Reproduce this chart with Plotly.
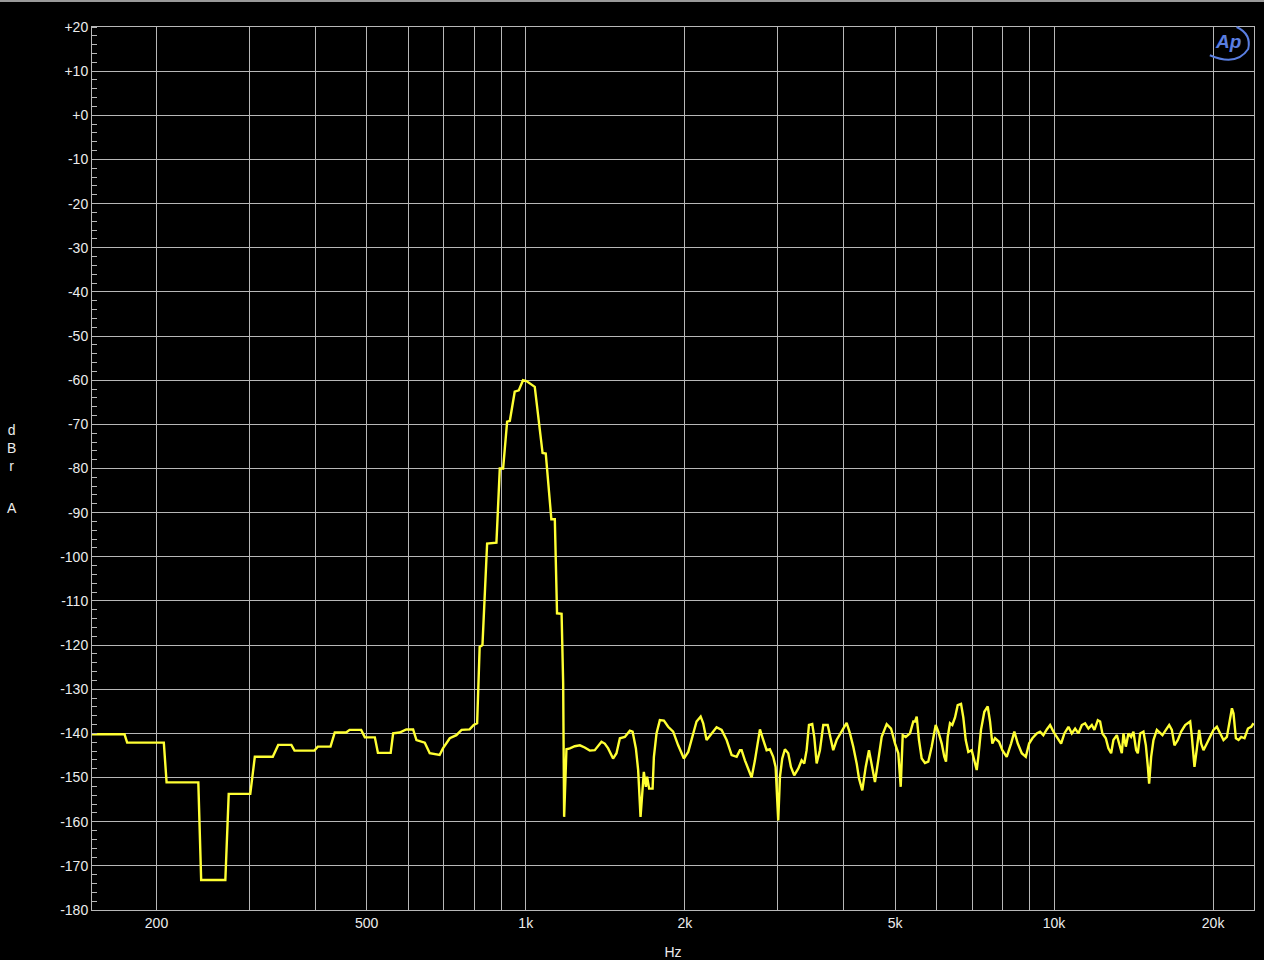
import numpy as np
import plotly.graph_objects as go

# Frequency (Hz) and level (dBrA)
freq = [151, 174, 176, 206.5, 209, 240, 243, 270, 274, 301, 307, 332, 340, 360, 365, 398,
        404, 427, 435, 457, 464, 488, 496, 518, 525, 555, 561, 577, 594, 612, 621, 644,
        658, 687, 697, 718, 739, 756, 783, 797, 809, 818, 828, 845, 880, 893, 906, 922,
        933, 953, 970, 988, 1003, 1025, 1040, 1076, 1091, 1118, 1135, 1146, 1169, 1177,
        1182, 1194,
        1212, 1238, 1266, 1293, 1322, 1351, 1371, 1391, 1411, 1432, 1463, 1485, 1507, 1540,
        1574, 1593, 1616, 1632, 1649, 1663, 1673, 1688, 1697, 1712, 1738, 1748, 1768, 1794,
        1826, 1860, 1901, 1943, 1992, 2030, 2075, 2105, 2143, 2167, 2199, 2248, 2297, 2348,
        2400, 2453, 2507, 2543,
        2562, 2599, 2637, 2676, 2715, 2747, 2775, 2803, 2857, 2898, 2940, 2971, 2992, 3005,
        3028, 3058, 3094, 3139, 3176, 3222, 3279, 3328, 3366, 3401, 3436, 3485, 3516, 3553,
        3604, 3657, 3728, 3765, 3819, 3876, 3962, 4049, 4108, 4168, 4230, 4273, 4335, 4400,
        4463, 4516, 4581, 4647, 4717, 4821, 4913, 5000, 5072, 5125, 5170, 5238, 5337, 5414,
        5455, 5495, 5550, 5616, 5697, 5779, 5866, 5969, 6038, 6128, 6197, 6244, 6290, 6353,
        6418, 6494, 6570, 6666, 6733, 6804, 6881, 6984, 7064, 7138, 7188, 7272, 7379, 7488,
        7564, 7640, 7731, 7866, 7981, 8135, 8290, 8410, 8537, 8686, 8840, 8968, 9098, 9273,
        9408, 9543, 9687, 9827, 9970, 10118, 10310, 10460, 10645, 10802, 10960, 11118,
        11286, 11447, 11614, 11787, 11921, 12100, 12221, 12345, 12528, 12671, 12823, 12951,
        13146, 13277, 13434, 13530, 13671, 13826, 13990, 14132, 14299, 14405, 14552, 14761,
        14918, 15049, 15133, 15266, 15421, 15650, 15879, 16038, 16279, 16513, 16708, 16898,
        17152, 17399, 17706, 18097, 18231, 18438, 18634, 18819, 18984, 19177, 19461, 19745,
        20030, 20329, 20626, 20924, 21237, 21449, 21707, 21858, 22087, 22343, 22606, 22932,
        23279, 23613, 23850]

level = [-140.2, -140.2, -142.1, -142.1, -151.1, -151.1, -173.2, -173.2, -153.7, -153.7,
         -145.3, -145.3, -142.6, -142.6, -143.9, -143.9, -143.0, -143.0, -139.8, -139.8,
         -139.2, -139.2, -140.9, -140.9, -144.4, -144.4, -140.0, -139.8, -139.1, -139.1,
         -141.5, -142.1, -144.5, -144.9, -143.4, -141.1, -140.4, -139.2, -139.1, -138.1,
         -137.7, -120.4, -120.0, -97.0, -96.8, -80.0, -80.0, -69.4, -69.2, -62.6, -62.3,
         -60.0, -60.2, -61.1, -61.5, -76.5, -76.6, -91.5, -91.5, -112.8, -112.9, -128.6,
         -158.9, -143.6,
         -143.4, -142.9, -142.7, -143.2, -143.9, -143.8, -142.7, -141.9, -142.3, -143.4,
         -145.7, -144.5, -141.1, -140.8, -139.4, -139.6, -143.4, -148.3, -158.9, -152.9,
         -148.7, -152.1, -149.8, -152.5, -152.5, -145.3, -140.0, -137.0, -137.1, -138.5,
         -139.6, -142.7, -145.7, -144.2, -140.0, -137.3, -136.2, -137.7, -141.5, -140.0,
         -138.6, -139.2, -141.5, -144.9, -145.3, -143.8,
         -143.8, -146.1, -148.0, -150.0, -146.1, -142.3, -139.1, -140.8, -143.8, -143.6,
         -145.3, -147.6, -155.2, -159.7, -149.8, -145.7, -143.6, -144.5, -147.6, -149.5,
         -148.0, -146.1, -146.8, -143.8, -138.1, -137.9, -140.8, -146.8, -143.8, -138.1,
         -138.1, -140.8, -143.8, -141.5, -139.6, -137.6, -140.0, -143.0, -146.8, -150.2,
         -152.9, -147.6, -143.8, -147.2, -151.0, -146.1, -140.8, -137.9, -138.9, -142.3,
         -144.5, -152.1, -140.4, -140.8, -140.0, -137.3,
         -137.3, -136.2, -141.5, -145.7, -146.7, -146.4, -143.0, -138.1, -139.6, -142.3,
         -145.3, -146.4, -140.8, -137.7, -138.1, -136.4, -133.6, -133.3, -136.4, -141.5,
         -144.2, -143.8, -146.1, -148.3, -145.3, -139.2, -135.1, -133.9, -137.3, -142.3,
         -141.1, -141.9, -143.8, -145.3, -142.3, -139.6, -142.3, -144.5, -145.3, -142.3,
         -141.1, -140.0, -139.6, -140.4, -139.1, -138.1, -139.6, -140.8, -142.3, -140.0,
         -138.5, -140.0, -138.9, -140.0,
         -138.1, -137.7, -138.9, -138.1, -139.2, -137.0, -137.3, -140.0, -141.1, -143.4,
         -144.5, -141.5, -140.4, -142.3, -144.5, -140.0, -143.0, -140.0, -140.8, -139.6,
         -143.8, -144.5, -140.0, -139.6, -142.7, -147.6, -151.4, -145.3, -141.5, -139.2,
         -140.0, -140.4, -139.2, -138.1, -139.2, -142.7, -141.5, -139.6, -138.1, -137.3,
         -140.8, -147.6, -143.4, -139.2, -142.3, -143.8, -142.3, -140.8, -139.2, -138.5,
         -140.0, -141.5, -140.8, -137.7, -134.3, -135.5, -141.1, -141.5, -140.8, -141.1,
         -138.9, -138.5, -137.7]

x_gridvals = [200, 300, 400, 500, 600, 700, 800, 900, 1000, 2000, 3000, 4000, 5000,
              6000, 7000, 8000, 9000, 10000, 20000]
x_labels = ["200", "", "", "500", "", "", "", "", "1k", "2k", "", "", "5k",
            "", "", "", "", "10k", "20k"]
y_vals = list(range(-180, 21, 10))
y_labels = [("+%d" % v) if v >= 0 else str(v) for v in y_vals]

x_range = [np.log10(151), np.log10(23900)]
y_range = [-180, 20]

grid = "#b8b8b8"
txt = "#ececec"
font = "Liberation Sans, Arial, sans-serif"

fig = go.Figure()
fig.add_trace(go.Scatter(x=freq, y=level, mode="lines",
                         line=dict(color="#ffff33", width=2.4), hoverinfo="skip"))

fig.update_layout(
    width=1264, height=960,
    paper_bgcolor="black", plot_bgcolor="black",
    margin=dict(l=92, r=10, t=27, b=50),
    showlegend=False,
    font=dict(family=font, color=txt, size=14),
    xaxis=dict(type="log", range=x_range, tickmode="array", tickvals=x_gridvals,
               ticktext=x_labels, showgrid=True, gridcolor=grid, gridwidth=1,
               showline=True, linecolor=grid, linewidth=1, mirror=True,
               ticks="", zeroline=False, tickfont=dict(size=14, color=txt),
               automargin=False,
               title=dict(text="Hz", font=dict(size=14, color=txt), standoff=17)),
    yaxis=dict(range=y_range, tickmode="array", tickvals=y_vals, ticktext=y_labels,
               showgrid=True, gridcolor=grid, gridwidth=1,
               showline=True, linecolor=grid, linewidth=1, mirror=True,
               ticks="", zeroline=False, tickfont=dict(size=14, color=txt),
               automargin=False,
               minor=dict(dtick=2, ticks="inside", ticklen=5, tickcolor=grid,
                          showgrid=False)),
)

# stacked y-axis unit label
fig.add_annotation(text="d<br>B<br>r", xref="paper", yref="paper",
                   x=-0.069, y=1 - (448 - 27) / 883, xanchor="center", yanchor="middle",
                   showarrow=False, align="center",
                   font=dict(size=14, color=txt, family=font))
fig.add_annotation(text="A", xref="paper", yref="paper",
                   x=-0.069, y=1 - (508 - 27) / 883, xanchor="center", yanchor="middle",
                   showarrow=False, align="center",
                   font=dict(size=14, color=txt, family=font))

# AP logo
fig.add_annotation(text="<b><i>Ap</i></b>", xref="paper", yref="paper",
                   x=0.978, y=0.984, xanchor="center", yanchor="middle",
                   showarrow=False, font=dict(size=19, color="#5a7ee0", family=font))
fig.add_shape(type="path", xref="paper", yref="paper",
              path="M 0.962,0.968 Q 0.985,0.955 0.995,0.975 Q 0.998,0.992 0.985,1.0",
              line=dict(color="#5a7ee0", width=2))

# top frame line of the window
fig.add_shape(type="line", xref="paper", yref="paper", x0=-92 / 1162, x1=1 + 10 / 1162,
              y0=1 + 26 / 883, y1=1 + 26 / 883, line=dict(color="#9a9a9a", width=2))

fig.write_html("out.html", config={"displayModeBar": False},
               post_script="document.body.style.margin='0';document.body.style.background='black';")
